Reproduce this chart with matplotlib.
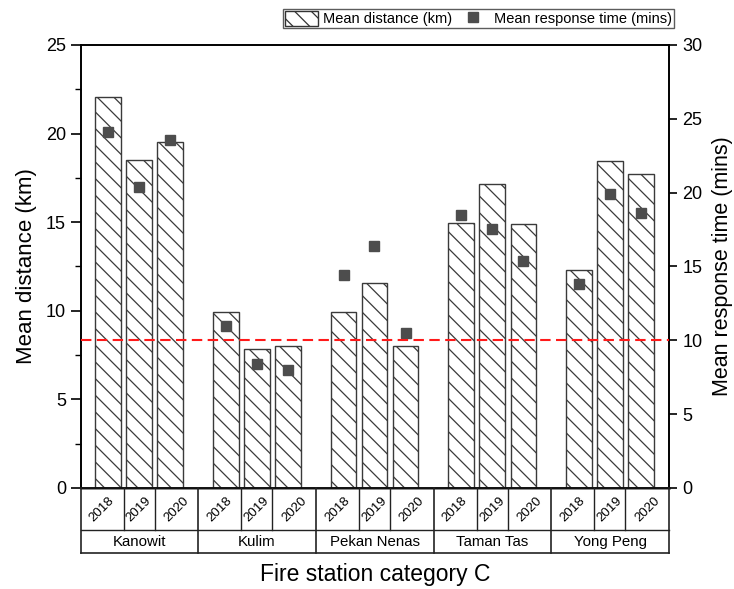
import matplotlib
matplotlib.use("Agg")
import matplotlib.pyplot as plt
from matplotlib.patches import Patch
from matplotlib.lines import Line2D
import numpy as np

plt.rcParams['font.family'] = ['Liberation Sans', 'DejaVu Sans']
plt.rcParams['hatch.linewidth'] = 0.9

stations = ["Kanowit", "Kulim", "Pekan Nenas", "Taman Tas", "Yong Peng"]
years = ["2018", "2019", "2020"]
distance = [
    [22.05, 18.53, 19.54],
    [9.95, 7.86, 8.00],
    [9.95, 11.59, 8.03],
    [14.94, 17.14, 14.92],
    [12.28, 18.47, 17.70],
]
response = [
    [24.08, 20.36, 23.54],
    [10.97, 8.40, 7.99],
    [14.40, 16.36, 10.47],
    [18.46, 17.52, 15.35],
    [13.81, 19.90, 18.62],
]
threshold = 10

HATCH = '\\\\'

fig = plt.figure(figsize=(7.34, 5.89), dpi=100)
ax = fig.add_axes([0.1097, 0.1715, 0.8017, 0.7521])
ax2 = ax.twinx()
tab = fig.add_axes([0.1097, 0.0611, 0.8017, 0.1104])

group_w = 4.0
offsets = np.array([0.94, 1.99, 3.05])
bar_w = 0.87

xs, ds, rs = [], [], []
for g in range(len(stations)):
    for k in range(len(years)):
        xs.append(g * group_w + offsets[k])
        ds.append(distance[g][k])
        rs.append(response[g][k])

ax.bar(xs, ds, width=bar_w, color='white', edgecolor='#3a3a3a',
       linewidth=1.0, hatch=HATCH, zorder=2)
ax2.plot(xs, rs, linestyle='none', marker='s', markersize=6.5,
         color='#4d4d4d', zorder=3)
ax2.axhline(threshold, color='#ff1a1a', linestyle=(0, (5, 2.6)),
            linewidth=1.5, zorder=4)

xmax = group_w * len(stations)
ax.set_xlim(0, xmax)
ax2.set_xlim(0, xmax)
ax.set_ylim(0, 25)
ax2.set_ylim(0, 30)
ax.set_yticks(np.arange(0, 26, 5))
ax.set_yticks(np.arange(2.5, 25, 5), minor=True)
ax2.set_yticks(np.arange(0, 31, 5))
ax.set_xticks([])
ax2.set_xticks([])
ax.tick_params(axis='y', direction='out', length=7, width=1.2, labelsize=13)
ax.tick_params(axis='y', which='minor', direction='out', length=4, width=1.0)
ax2.tick_params(axis='y', direction='out', length=6, width=1.2, labelsize=13)
for a in (ax, ax2):
    for s in a.spines.values():
        s.set_linewidth(1.2)
ax.spines['bottom'].set_color('#666666')
ax.spines['bottom'].set_linewidth(1.8)
ax.set_ylabel("Mean distance (km)", fontsize=16, labelpad=6)
ax2.set_ylabel("Mean response time (mins)", fontsize=15.5, labelpad=7)
ax.set_zorder(ax2.get_zorder() - 1)
ax2.patch.set_visible(False)

# table below axis
tab.set_xlim(0, xmax)
tab.set_ylim(0, 1)
tab.axis('off')
row_split = 23 / 65.0
lc = '#222222'
tab.plot([0, xmax], [row_split, row_split], color=lc, lw=1.0, clip_on=False)
tab.plot([0, xmax], [0, 0], color=lc, lw=1.2, clip_on=False)
for g in range(len(stations) + 1):
    x = g * group_w
    tab.plot([x, x], [0, 1], color=lc, lw=1.2, clip_on=False)
for g in range(len(stations)):
    bounds = [g * group_w] + [g * group_w + (offsets[k] + offsets[k + 1]) / 2
                              for k in range(len(years) - 1)] + [(g + 1) * group_w]
    for k in range(1, len(years)):
        tab.plot([bounds[k], bounds[k]], [row_split, 1], color=lc, lw=1.0)
    for k, yr in enumerate(years):
        tab.text((bounds[k] + bounds[k + 1]) / 2, (1 + row_split) / 2, yr,
                 rotation=45, ha='center', va='center', fontsize=9.5)
    tab.text((g + 0.5) * group_w, row_split / 2, stations[g],
             ha='center', va='center', fontsize=10.8)

fig.text(0.5109, 0.024, "Fire station category C", ha='center', va='center',
         fontsize=16.5)

handles = [Patch(facecolor='white', edgecolor='#333333', hatch=HATCH,
                 label='Mean distance (km)'),
           Line2D([], [], linestyle='none', marker='s', markersize=7,
                  color='#4d4d4d', label='Mean response time (mins)')]
leg = fig.legend(handles=handles, loc='upper right', ncol=2,
                 bbox_to_anchor=(0.918, 0.985), frameon=True, fancybox=False,
                 fontsize=10.5, handlelength=2.3, handleheight=1.3,
                 columnspacing=0.3, handletextpad=0.3, borderpad=0.12,
                 borderaxespad=0.0)
leg.get_frame().set_edgecolor('#333333')
leg.get_frame().set_linewidth(1.0)

fig.savefig("out.png", dpi=100)
